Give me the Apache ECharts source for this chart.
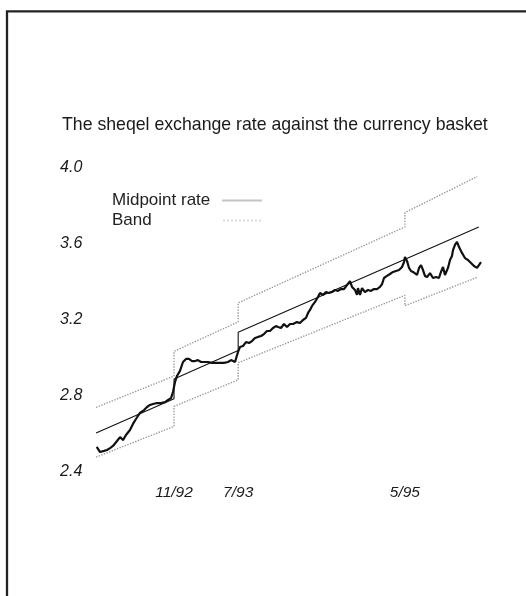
<!DOCTYPE html>
<html><head><meta charset="utf-8">
<script src="https://cdn.jsdelivr.net/npm/echarts@6/dist/echarts.min.js"></script>
<style>html,body{margin:0;padding:0;background:#fff}#c{width:526px;height:596px}</style>
</head><body><div id="c"></div>
<script>
// x values: months since 1 Jan 1992
const titleText = 'The sheqel exchange rate against the currency basket';
const yTicks = [2.4, 2.8, 3.2, 3.6, 4.0];
const xTickMonths = [10.27, 18.8, 40.97];
const xTickLabels = ['11/92', '7/93', '5/95'];

const midMonths = [-0.1, 10.27, 10.27, 18.8, 18.8, 50.8];
const midValues = [2.605, 2.785, 2.89, 3.04, 3.135, 3.689];

const upperMonths = [-0.1, 10.27, 10.27, 18.8, 18.8, 40.97, 40.97, 50.6];
const upperValues = [2.74, 2.905, 3.035, 3.19, 3.29, 3.69, 3.765, 3.955];
const lowerMonths = [-0.1, 10.27, 10.27, 18.8, 18.8, 40.97, 40.97, 50.6];
const lowerValues = [2.478, 2.64, 2.745, 2.885, 2.975, 3.33, 3.275, 3.425];

const rateMonths = [-0.01,0.43,0.96,1.36,1.76,2.15,2.69,3.09,3.35,3.48,3.88,4.41,4.81,5.21,5.74,6.28,6.68,7.07,7.47,8.01,8.54,9.07,9.47,9.87,10.13,10.40,10.66,11.06,11.46,11.86,12.26,12.66,13.06,13.46,13.86,14.26,14.79,15.32,15.85,16.38,16.91,17.45,17.85,18.11,18.38,18.64,18.78,19.04,19.44,19.84,20.24,20.64,21.04,21.44,21.84,22.23,22.63,23.03,23.43,23.83,24.10,24.49,24.89,25.29,25.69,26.09,26.62,27.02,27.42,27.82,28.09,28.35,28.62,29.02,29.41,29.68,30.08,30.48,30.88,31.28,31.68,32.07,32.47,32.87,33.27,33.67,33.94,34.34,34.60,34.73,35.00,35.27,35.66,36.06,36.46,36.86,37.26,37.66,37.93,38.19,38.59,38.99,39.39,39.79,40.19,40.59,40.85,40.98,41.25,41.52,41.78,42.05,42.31,42.58,42.85,43.11,43.38,43.64,43.91,44.31,44.71,45.11,45.50,45.77,46.04,46.30,46.70,46.97,47.23,47.37,47.63,47.90,48.17,48.56,48.96,49.36,49.76,50.16,50.56,50.82,51.09];
const rateValues = [2.532,2.505,2.511,2.516,2.526,2.537,2.563,2.584,2.584,2.568,2.595,2.621,2.653,2.679,2.711,2.726,2.742,2.753,2.758,2.763,2.763,2.768,2.779,2.789,2.821,2.874,2.905,2.932,2.979,2.995,2.995,2.984,2.984,2.989,2.979,2.979,2.979,2.974,2.974,2.974,2.974,2.979,2.989,2.995,2.979,2.974,3.032,3.058,3.063,3.084,3.079,3.089,3.105,3.111,3.116,3.126,3.142,3.142,3.158,3.168,3.163,3.158,3.179,3.163,3.179,3.179,3.189,3.184,3.200,3.211,3.237,3.253,3.274,3.295,3.321,3.342,3.332,3.347,3.342,3.347,3.358,3.353,3.363,3.363,3.384,3.405,3.374,3.358,3.332,3.368,3.332,3.368,3.347,3.358,3.353,3.363,3.363,3.374,3.389,3.421,3.432,3.442,3.453,3.458,3.463,3.479,3.505,3.532,3.511,3.474,3.458,3.453,3.447,3.437,3.474,3.489,3.463,3.432,3.426,3.447,3.421,3.426,3.421,3.453,3.479,3.437,3.474,3.516,3.537,3.568,3.595,3.611,3.584,3.553,3.526,3.516,3.500,3.484,3.474,3.474,3.505];

const zip = (a, b) => a.map((v, i) => [v, b[i]]);
const FONT = "'Liberation Sans', Arial, Helvetica, sans-serif";
let dots = '';
for (let i = 0; i < 10; i++) dots += 'M' + (i * 4) + ' 0h2v2h-2z';

const chart = echarts.init(document.getElementById('c'), null, {renderer: 'canvas'});
chart.setOption({
  animation: false,
  backgroundColor: '#fff',
  title: {
    text: titleText, left: 62, top: 116, padding: 0,
    textStyle: {fontFamily: FONT, fontSize: 17.7, fontWeight: 'normal', color: '#1a1a1a'}
  },
  legend: {
    orient: 'vertical', left: 112, top: 192, align: 'right', padding: 0,
    itemWidth: 40, itemHeight: 2, itemGap: 3, selectedMode: false,
    formatter: name => '{t|' + name + '}',
    textStyle: {fontFamily: FONT, fontSize: 17, color: '#222',
      rich: {t: {width: 105, lineHeight: 19, align: 'left', fontFamily: FONT, fontSize: 17, color: '#222'}}},
    data: [
      {name: 'Midpoint rate', icon: 'rect', itemStyle: {color: '#c4c4c4'}},
      {name: 'Band', icon: 'path://' + dots + 'M38 0h0.01v2h-0.01z', itemStyle: {color: '#dcdcdc'}}
    ]
  },
  grid: {left: 89.28, right: 38.16, top: 168, bottom: 124, containLabel: false},
  xAxis: {
    type: 'value', min: -1, max: 52,
    axisLine: {show: false}, axisTick: {show: false}, splitLine: {show: false},
    axisLabel: {
      customValues: xTickMonths, margin: 13,
      fontFamily: FONT, fontSize: 15.5, fontStyle: 'italic', color: '#1a1a1a',
      formatter: v => { const i = xTickMonths.findIndex(m => Math.abs(m - v) < 1e-6); return i >= 0 ? xTickLabels[i] : ''; }
    }
  },
  yAxis: {
    type: 'value', min: yTicks[0], max: yTicks[yTicks.length - 1], interval: 0.4,
    axisLine: {show: false}, axisTick: {show: false}, splitLine: {show: false},
    axisLabel: {margin: 7, fontFamily: FONT, fontSize: 16, fontStyle: 'italic', color: '#1a1a1a',
      formatter: v => v.toFixed(1)}
  },
  series: [
    {name: 'Band', type: 'line', data: zip(upperMonths, upperValues), symbol: 'none',
      lineStyle: {color: '#9a9a9a', width: 1.4, type: 'dotted'}, z: 1},
    {name: 'Band', type: 'line', data: zip(lowerMonths, lowerValues), symbol: 'none',
      lineStyle: {color: '#9a9a9a', width: 1.4, type: 'dotted'}, z: 1},
    {name: 'Midpoint rate', type: 'line', data: zip(midMonths, midValues), symbol: 'none',
      lineStyle: {color: '#111', width: 1.1}, z: 2},
    {name: 'Rate', type: 'line', data: zip(rateMonths, rateValues), symbol: 'none',
      lineStyle: {color: '#111', width: 2.2}, z: 3}
  ],
  graphic: [
    {type: 'rect', shape: {x: 7, y: 11.3, width: 700, height: 800},
      style: {fill: null, stroke: '#222', lineWidth: 2.3}, silent: true}
  ]
});
</script></body></html>
